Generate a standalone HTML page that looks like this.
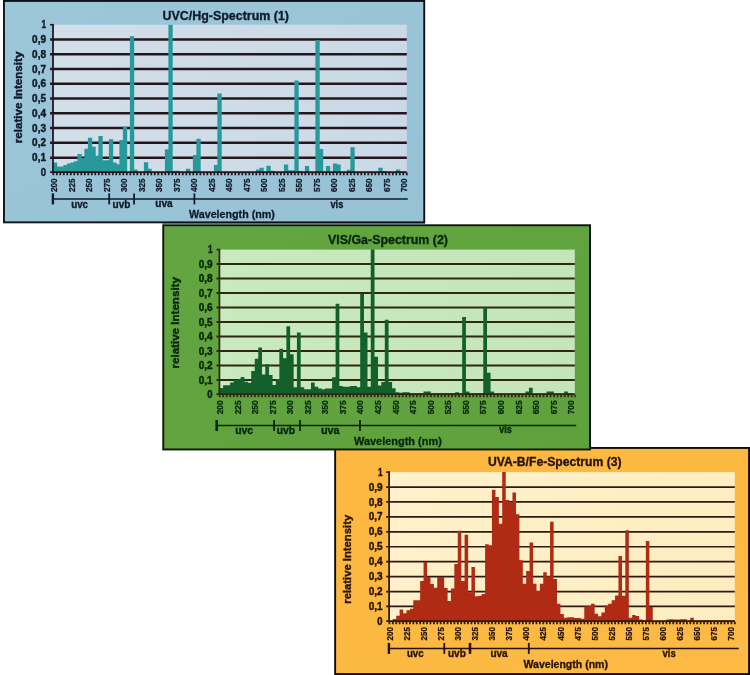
<!DOCTYPE html>
<html lang="en"><head><meta charset="utf-8"><title>Spectra</title>
<style>
html,body{margin:0;padding:0;background:#fff;}
body{width:750px;height:675px;overflow:hidden;}
svg{display:block;font-family:"Liberation Sans",sans-serif;}
text{font-weight:bold;}
</style></head><body>
<svg width="750" height="675" viewBox="0 0 750 675">
<rect width="750" height="675" fill="#fff"/>

<defs><linearGradient id="g1" x1="0" y1="0" x2="1" y2="1"><stop offset="0" stop-color="#9cc6d9"/><stop offset="1" stop-color="#97c2d6"/></linearGradient>
<linearGradient id="p1" x1="0" y1="0" x2="1" y2="0"><stop offset="0" stop-color="#d2dfe9"/><stop offset="1" stop-color="#cbd9e6"/></linearGradient></defs>
<g id="panel1">
<rect x="3.95" y="0.95" width="420.3" height="221.4" fill="url(#g1)" stroke="#0e1116" stroke-width="1.9"/>
<rect x="53.3" y="24.7" width="353.5" height="147.7" fill="url(#p1)"/>
<line x1="50.1" y1="157.63" x2="406.8" y2="157.63" stroke="#24161e" stroke-width="2.5"/>
<line x1="50.1" y1="142.86" x2="406.8" y2="142.86" stroke="#24161e" stroke-width="2.5"/>
<line x1="50.1" y1="128.09" x2="406.8" y2="128.09" stroke="#24161e" stroke-width="2.5"/>
<line x1="50.1" y1="113.32" x2="406.8" y2="113.32" stroke="#24161e" stroke-width="2.5"/>
<line x1="50.1" y1="98.55" x2="406.8" y2="98.55" stroke="#24161e" stroke-width="2.5"/>
<line x1="50.1" y1="83.78" x2="406.8" y2="83.78" stroke="#24161e" stroke-width="2.5"/>
<line x1="50.1" y1="69.01" x2="406.8" y2="69.01" stroke="#24161e" stroke-width="2.5"/>
<line x1="50.1" y1="54.24" x2="406.8" y2="54.24" stroke="#24161e" stroke-width="2.5"/>
<line x1="50.1" y1="39.47" x2="406.8" y2="39.47" stroke="#24161e" stroke-width="2.5"/>
<path d="M53.3 172.4V162.5H57.2V172.4ZM56.4 172.4V166.49H60.7V172.4ZM59.9 172.4V166.49H64.2V172.4ZM63.4 172.4V165.02H67.7V172.4ZM66.9 172.4V163.54H71.2V172.4ZM70.4 172.4V162.5H74.7V172.4ZM73.9 172.4V161.17H78.2V172.4ZM77.4 172.4V153.94H81.7V172.4ZM80.9 172.4V157.93H85.2V172.4ZM84.4 172.4V148.77H88.7V172.4ZM87.9 172.4V137.69H92.2V172.4ZM91.4 172.4V146.85H95.7V172.4ZM94.9 172.4V155.86H99.2V172.4ZM98.4 172.4V136.07H102.7V172.4ZM101.9 172.4V160.29H106.2V172.4ZM105.4 172.4V160.29H109.7V172.4ZM108.9 172.4V139.32H113.2V172.4ZM112.4 172.4V162.5H116.7V172.4ZM115.9 172.4V164.13H120.2V172.4ZM119.4 172.4V139.91H123.7V172.4ZM122.9 172.4V126.61H127.2V172.4ZM129.9 172.4V36.22H134.2V172.4ZM133.4 172.4V169.45H137.7V172.4ZM143.9 172.4V162.36H148.2V172.4ZM147.4 172.4V168.71H151.7V172.4ZM164.9 172.4V149.36H169.2V172.4ZM168.4 172.4V24.7H172.7V172.4ZM171.9 172.4V170.63H176.2V172.4ZM175.4 172.4V170.63H179.7V172.4ZM185.9 172.4V168.71H190.2V172.4ZM192.9 172.4V154.97H197.2V172.4ZM196.4 172.4V138.72H200.7V172.4ZM213.9 172.4V165.02H218.2V172.4ZM217.4 172.4V93.38H221.7V172.4ZM255.9 172.4V169.45H260.2V172.4ZM259.4 172.4V167.82H263.7V172.4ZM266.4 172.4V165.75H270.7V172.4ZM269.9 172.4V170.63H274.2V172.4ZM283.9 172.4V164.42H288.2V172.4ZM287.4 172.4V170.18H291.7V172.4ZM290.9 172.4V170.18H295.2V172.4ZM294.4 172.4V80.53H298.7V172.4ZM297.9 172.4V170.63H302.2V172.4ZM304.9 172.4V166.05H309.2V172.4ZM315.4 172.4V39.91H319.7V172.4ZM318.9 172.4V149.06H323.2V172.4ZM325.9 172.4V166.05H330.2V172.4ZM332.9 172.4V163.54H337.2V172.4ZM336.4 172.4V164.42H340.7V172.4ZM346.9 172.4V169.74H351.2V172.4ZM350.4 172.4V147.29H354.7V172.4ZM378.4 172.4V167.82H382.7V172.4ZM381.9 172.4V170.92H386.2V172.4ZM395.9 172.4V169.45H400.2V172.4ZM399.4 172.4V171.51H403.7V172.4ZM402.9 172.4V171.51H406.8V172.4Z" fill="#27999b"/>
<line x1="53" y1="23.9" x2="53" y2="173.1" stroke="#24161e" stroke-width="1.8"/>
<line x1="50.1" y1="24.7" x2="53.3" y2="24.7" stroke="#24161e" stroke-width="1.6"/>
<line x1="50.1" y1="172.2" x2="406.8" y2="172.2" stroke="#24161e" stroke-width="1.8"/>
<line x1="52.4" y1="174" x2="407.8" y2="174" stroke="#24161e" stroke-width="2.4" stroke-dasharray="1.8 1.7"/>
<text x="40.7" y="176" font-size="10.7" textLength="5.3" lengthAdjust="spacingAndGlyphs" fill="#101b29" stroke="#101b29" stroke-width="0.45">0</text>
<text x="32.1" y="161.23" font-size="10.7" textLength="13.9" lengthAdjust="spacingAndGlyphs" fill="#101b29" stroke="#101b29" stroke-width="0.45">0,1</text>
<text x="32.1" y="146.46" font-size="10.7" textLength="13.9" lengthAdjust="spacingAndGlyphs" fill="#101b29" stroke="#101b29" stroke-width="0.45">0,2</text>
<text x="32.1" y="131.69" font-size="10.7" textLength="13.9" lengthAdjust="spacingAndGlyphs" fill="#101b29" stroke="#101b29" stroke-width="0.45">0,3</text>
<text x="32.1" y="116.92" font-size="10.7" textLength="13.9" lengthAdjust="spacingAndGlyphs" fill="#101b29" stroke="#101b29" stroke-width="0.45">0,4</text>
<text x="32.1" y="102.15" font-size="10.7" textLength="13.9" lengthAdjust="spacingAndGlyphs" fill="#101b29" stroke="#101b29" stroke-width="0.45">0,5</text>
<text x="32.1" y="87.38" font-size="10.7" textLength="13.9" lengthAdjust="spacingAndGlyphs" fill="#101b29" stroke="#101b29" stroke-width="0.45">0,6</text>
<text x="32.1" y="72.61" font-size="10.7" textLength="13.9" lengthAdjust="spacingAndGlyphs" fill="#101b29" stroke="#101b29" stroke-width="0.45">0,7</text>
<text x="32.1" y="57.84" font-size="10.7" textLength="13.9" lengthAdjust="spacingAndGlyphs" fill="#101b29" stroke="#101b29" stroke-width="0.45">0,8</text>
<text x="32.1" y="43.07" font-size="10.7" textLength="13.9" lengthAdjust="spacingAndGlyphs" fill="#101b29" stroke="#101b29" stroke-width="0.45">0,9</text>
<text x="41.4" y="28.3" font-size="10.7" textLength="4.6" lengthAdjust="spacingAndGlyphs" fill="#101b29" stroke="#101b29" stroke-width="0.45">1</text>
<text transform="translate(22.2 143.15) rotate(-90)" font-size="11.6" textLength="91.5" lengthAdjust="spacingAndGlyphs" fill="#101b29" stroke="#101b29" stroke-width="0.4">relative Intensity</text>
<text x="162.4" y="20" font-size="12.8" textLength="126.6" lengthAdjust="spacingAndGlyphs" fill="#101b29" stroke="#101b29" stroke-width="0.35">UVC/Hg-Spectrum (1)</text>
<text transform="translate(57.3 192.1) rotate(-90)" font-size="9.2" textLength="13.7" lengthAdjust="spacingAndGlyphs" fill="#101b29" stroke="#101b29" stroke-width="0.25">200</text>
<text transform="translate(74.8 192.1) rotate(-90)" font-size="9.2" textLength="13.7" lengthAdjust="spacingAndGlyphs" fill="#101b29" stroke="#101b29" stroke-width="0.25">225</text>
<text transform="translate(92.3 192.1) rotate(-90)" font-size="9.2" textLength="13.7" lengthAdjust="spacingAndGlyphs" fill="#101b29" stroke="#101b29" stroke-width="0.25">250</text>
<text transform="translate(109.8 192.1) rotate(-90)" font-size="9.2" textLength="13.7" lengthAdjust="spacingAndGlyphs" fill="#101b29" stroke="#101b29" stroke-width="0.25">275</text>
<text transform="translate(127.3 192.1) rotate(-90)" font-size="9.2" textLength="13.7" lengthAdjust="spacingAndGlyphs" fill="#101b29" stroke="#101b29" stroke-width="0.25">300</text>
<text transform="translate(144.8 192.1) rotate(-90)" font-size="9.2" textLength="13.7" lengthAdjust="spacingAndGlyphs" fill="#101b29" stroke="#101b29" stroke-width="0.25">325</text>
<text transform="translate(162.3 192.1) rotate(-90)" font-size="9.2" textLength="13.7" lengthAdjust="spacingAndGlyphs" fill="#101b29" stroke="#101b29" stroke-width="0.25">350</text>
<text transform="translate(179.8 192.1) rotate(-90)" font-size="9.2" textLength="13.7" lengthAdjust="spacingAndGlyphs" fill="#101b29" stroke="#101b29" stroke-width="0.25">375</text>
<text transform="translate(197.3 192.1) rotate(-90)" font-size="9.2" textLength="13.7" lengthAdjust="spacingAndGlyphs" fill="#101b29" stroke="#101b29" stroke-width="0.25">400</text>
<text transform="translate(214.8 192.1) rotate(-90)" font-size="9.2" textLength="13.7" lengthAdjust="spacingAndGlyphs" fill="#101b29" stroke="#101b29" stroke-width="0.25">425</text>
<text transform="translate(232.3 192.1) rotate(-90)" font-size="9.2" textLength="13.7" lengthAdjust="spacingAndGlyphs" fill="#101b29" stroke="#101b29" stroke-width="0.25">450</text>
<text transform="translate(249.8 192.1) rotate(-90)" font-size="9.2" textLength="13.7" lengthAdjust="spacingAndGlyphs" fill="#101b29" stroke="#101b29" stroke-width="0.25">475</text>
<text transform="translate(267.3 192.1) rotate(-90)" font-size="9.2" textLength="13.7" lengthAdjust="spacingAndGlyphs" fill="#101b29" stroke="#101b29" stroke-width="0.25">500</text>
<text transform="translate(284.8 192.1) rotate(-90)" font-size="9.2" textLength="13.7" lengthAdjust="spacingAndGlyphs" fill="#101b29" stroke="#101b29" stroke-width="0.25">525</text>
<text transform="translate(302.3 192.1) rotate(-90)" font-size="9.2" textLength="13.7" lengthAdjust="spacingAndGlyphs" fill="#101b29" stroke="#101b29" stroke-width="0.25">550</text>
<text transform="translate(319.8 192.1) rotate(-90)" font-size="9.2" textLength="13.7" lengthAdjust="spacingAndGlyphs" fill="#101b29" stroke="#101b29" stroke-width="0.25">575</text>
<text transform="translate(337.3 192.1) rotate(-90)" font-size="9.2" textLength="13.7" lengthAdjust="spacingAndGlyphs" fill="#101b29" stroke="#101b29" stroke-width="0.25">600</text>
<text transform="translate(354.8 192.1) rotate(-90)" font-size="9.2" textLength="13.7" lengthAdjust="spacingAndGlyphs" fill="#101b29" stroke="#101b29" stroke-width="0.25">625</text>
<text transform="translate(372.3 192.1) rotate(-90)" font-size="9.2" textLength="13.7" lengthAdjust="spacingAndGlyphs" fill="#101b29" stroke="#101b29" stroke-width="0.25">650</text>
<text transform="translate(389.8 192.1) rotate(-90)" font-size="9.2" textLength="13.7" lengthAdjust="spacingAndGlyphs" fill="#101b29" stroke="#101b29" stroke-width="0.25">675</text>
<text transform="translate(407.3 192.1) rotate(-90)" font-size="9.2" textLength="13.7" lengthAdjust="spacingAndGlyphs" fill="#101b29" stroke="#101b29" stroke-width="0.25">700</text>
<line x1="52.9" y1="199" x2="407.8" y2="199" stroke="#101b29" stroke-width="1.5"/>
<line x1="52.9" y1="193.4" x2="52.9" y2="204.4" stroke="#101b29" stroke-width="2.4"/>
<line x1="109.2" y1="193.4" x2="109.2" y2="204.4" stroke="#101b29" stroke-width="1.8"/>
<line x1="134.1" y1="193.4" x2="134.1" y2="204.4" stroke="#101b29" stroke-width="1.8"/>
<line x1="194.4" y1="193.4" x2="194.4" y2="204.4" stroke="#101b29" stroke-width="1.8"/>
<text x="71.2" y="207.5" font-size="10.2" textLength="16.8" lengthAdjust="spacingAndGlyphs" fill="#101b29" stroke="#101b29" stroke-width="0.35">uvc</text>
<text x="112.6" y="207.5" font-size="10.2" textLength="17.8" lengthAdjust="spacingAndGlyphs" fill="#101b29" stroke="#101b29" stroke-width="0.35">uvb</text>
<text x="155.3" y="207.1" font-size="10.2" textLength="17.4" lengthAdjust="spacingAndGlyphs" fill="#101b29" stroke="#101b29" stroke-width="0.35">uva</text>
<text x="330.4" y="208.2" font-size="10.2" textLength="12.9" lengthAdjust="spacingAndGlyphs" fill="#101b29" stroke="#101b29" stroke-width="0.35">vis</text>
<text x="189.1" y="218.3" font-size="10.6" textLength="85.7" lengthAdjust="spacingAndGlyphs" fill="#101b29" stroke="#101b29" stroke-width="0.3">Wavelength (nm)</text>
</g>
<defs><linearGradient id="g3" x1="0" y1="0" x2="1" y2="1"><stop offset="0" stop-color="#fcb840"/><stop offset="1" stop-color="#fdba44"/></linearGradient>
<linearGradient id="p3" x1="0" y1="0" x2="1" y2="0"><stop offset="0" stop-color="#fef1cb"/><stop offset="1" stop-color="#fdedc0"/></linearGradient></defs>
<g id="panel3">
<rect x="335.15" y="447.95" width="413.9" height="226.1" fill="url(#g3)" stroke="#120c08" stroke-width="1.9"/>
<rect x="389.4" y="472.1" width="345.4" height="149.3" fill="url(#p3)"/>
<line x1="386.2" y1="606.47" x2="734.8" y2="606.47" stroke="#2e1a10" stroke-width="1.7"/>
<line x1="386.2" y1="591.54" x2="734.8" y2="591.54" stroke="#2e1a10" stroke-width="1.7"/>
<line x1="386.2" y1="576.61" x2="734.8" y2="576.61" stroke="#2e1a10" stroke-width="1.7"/>
<line x1="386.2" y1="561.68" x2="734.8" y2="561.68" stroke="#2e1a10" stroke-width="1.7"/>
<line x1="386.2" y1="546.75" x2="734.8" y2="546.75" stroke="#2e1a10" stroke-width="1.7"/>
<line x1="386.2" y1="531.82" x2="734.8" y2="531.82" stroke="#2e1a10" stroke-width="1.7"/>
<line x1="386.2" y1="516.89" x2="734.8" y2="516.89" stroke="#2e1a10" stroke-width="1.7"/>
<line x1="386.2" y1="501.96" x2="734.8" y2="501.96" stroke="#2e1a10" stroke-width="1.7"/>
<line x1="386.2" y1="487.03" x2="734.8" y2="487.03" stroke="#2e1a10" stroke-width="1.7"/>
<path d="M392.77 621.4V619.01H396.29V621.4ZM396.19 621.4V615.73H399.71V621.4ZM399.61 621.4V609.61H403.13V621.4ZM403.03 621.4V613.34H406.55V621.4ZM406.45 621.4V610.35H409.97V621.4ZM409.87 621.4V608.71H413.39V621.4ZM413.29 621.4V600.35H416.81V621.4ZM416.71 621.4V600.35H420.23V621.4ZM420.13 621.4V581.09H423.65V621.4ZM423.55 621.4V561.98H427.07V621.4ZM426.97 621.4V577.06H430.49V621.4ZM430.39 621.4V584.08H433.91V621.4ZM433.81 621.4V587.66H437.33V621.4ZM437.23 621.4V577.06H440.75V621.4ZM440.65 621.4V577.06H444.17V621.4ZM444.07 621.4V587.96H447.59V621.4ZM447.49 621.4V600.95H451.01V621.4ZM450.91 621.4V588.4H454.43V621.4ZM454.33 621.4V564.07H457.85V621.4ZM457.75 621.4V530.63H461.27V621.4ZM461.17 621.4V581.09H464.69V621.4ZM464.59 621.4V534.66H468.11V621.4ZM468.01 621.4V592.29H471.53V621.4ZM471.43 621.4V567.05H474.95V621.4ZM474.85 621.4V596.32H478.36V621.4ZM478.26 621.4V595.72H481.78V621.4ZM481.68 621.4V594.08H485.2V621.4ZM485.1 621.4V544.36H488.62V621.4ZM488.52 621.4V545.26H492.04V621.4ZM491.94 621.4V489.72H495.46V621.4ZM495.36 621.4V497.03H498.88V621.4ZM498.78 621.4V523.76H502.3V621.4ZM502.2 621.4V472.1H505.72V621.4ZM505.62 621.4V500.02H509.14V621.4ZM509.04 621.4V503.01H512.56V621.4ZM512.46 621.4V492.4H515.98V621.4ZM515.88 621.4V514.35H519.4V621.4ZM519.3 621.4V560.34H522.82V621.4ZM522.72 621.4V583.63H526.24V621.4ZM526.14 621.4V571.01H529.66V621.4ZM529.56 621.4V542.57H533.08V621.4ZM532.98 621.4V583.63H536.5V621.4ZM536.4 621.4V590.94H539.92V621.4ZM539.82 621.4V583.63H543.34V621.4ZM543.24 621.4V572.28H546.76V621.4ZM546.66 621.4V576.61H550.18V621.4ZM550.08 621.4V521.67H553.6V621.4ZM553.5 621.4V579H557.02V621.4ZM556.92 621.4V603.63H560.44V621.4ZM560.34 621.4V614.08H563.86V621.4ZM563.76 621.4V617.67H567.28V621.4ZM567.18 621.4V617.37H570.7V621.4ZM570.6 621.4V617.37H574.12V621.4ZM574.02 621.4V618.12H577.54V621.4ZM577.44 621.4V618.12H580.96V621.4ZM580.86 621.4V618.71H584.38V621.4ZM584.28 621.4V606.47H587.8V621.4ZM587.7 621.4V605.72H591.22V621.4ZM591.12 621.4V603.63H594.64V621.4ZM594.54 621.4V613.64H598.06V621.4ZM597.96 621.4V616.32H601.48V621.4ZM601.38 621.4V612.44H604.9V621.4ZM604.8 621.4V605.72H608.32V621.4ZM608.22 621.4V603.63H611.74V621.4ZM611.64 621.4V600.35H615.16V621.4ZM615.06 621.4V595.42H618.58V621.4ZM618.48 621.4V556.01H622V621.4ZM621.9 621.4V595.72H625.42V621.4ZM625.32 621.4V530.33H628.84V621.4ZM628.74 621.4V617.67H632.26V621.4ZM632.16 621.4V614.98H635.68V621.4ZM635.58 621.4V615.88H639.1V621.4ZM639 621.4V619.46H642.52V621.4ZM642.42 621.4V620.35H645.94V621.4ZM645.84 621.4V541.08H649.35V621.4ZM649.25 621.4V607.07H652.77V621.4ZM652.67 621.4V620.65H656.19V621.4ZM656.09 621.4V620.65H659.61V621.4ZM659.51 621.4V620.65H663.03V621.4ZM662.93 621.4V620.65H666.45V621.4ZM666.35 621.4V619.61H669.87V621.4ZM669.77 621.4V619.16H673.29V621.4ZM673.19 621.4V619.61H676.71V621.4ZM676.61 621.4V619.61H680.13V621.4ZM680.03 621.4V619.16H683.55V621.4ZM683.45 621.4V619.16H686.97V621.4ZM686.87 621.4V620.5H690.39V621.4ZM690.29 621.4V617.67H693.81V621.4ZM693.71 621.4V620.5H697.23V621.4ZM697.13 621.4V620.5H700.65V621.4ZM700.55 621.4V620.21H704.07V621.4ZM703.97 621.4V620.21H707.49V621.4ZM707.39 621.4V620.21H710.91V621.4ZM710.81 621.4V620.5H714.33V621.4ZM714.23 621.4V620.5H717.75V621.4ZM717.65 621.4V620.5H721.17V621.4ZM721.07 621.4V620.21H724.59V621.4ZM724.49 621.4V620.21H728.01V621.4ZM727.91 621.4V620.21H731.43V621.4ZM731.33 621.4V620.5H734.8V621.4Z" fill="#b02a14"/>
<line x1="389.1" y1="471.3" x2="389.1" y2="622.1" stroke="#2e1a10" stroke-width="1.8"/>
<line x1="386.2" y1="472.1" x2="389.4" y2="472.1" stroke="#2e1a10" stroke-width="1.6"/>
<line x1="386.2" y1="621.2" x2="734.8" y2="621.2" stroke="#2e1a10" stroke-width="1.8"/>
<line x1="388.5" y1="623" x2="735.8" y2="623" stroke="#2e1a10" stroke-width="2.4" stroke-dasharray="1.8 1.62"/>
<text x="377.3" y="625" font-size="10.7" textLength="5.3" lengthAdjust="spacingAndGlyphs" fill="#27130a" stroke="#27130a" stroke-width="0.45">0</text>
<text x="368.7" y="610.07" font-size="10.7" textLength="13.9" lengthAdjust="spacingAndGlyphs" fill="#27130a" stroke="#27130a" stroke-width="0.45">0,1</text>
<text x="368.7" y="595.14" font-size="10.7" textLength="13.9" lengthAdjust="spacingAndGlyphs" fill="#27130a" stroke="#27130a" stroke-width="0.45">0,2</text>
<text x="368.7" y="580.21" font-size="10.7" textLength="13.9" lengthAdjust="spacingAndGlyphs" fill="#27130a" stroke="#27130a" stroke-width="0.45">0,3</text>
<text x="368.7" y="565.28" font-size="10.7" textLength="13.9" lengthAdjust="spacingAndGlyphs" fill="#27130a" stroke="#27130a" stroke-width="0.45">0,4</text>
<text x="368.7" y="550.35" font-size="10.7" textLength="13.9" lengthAdjust="spacingAndGlyphs" fill="#27130a" stroke="#27130a" stroke-width="0.45">0,5</text>
<text x="368.7" y="535.42" font-size="10.7" textLength="13.9" lengthAdjust="spacingAndGlyphs" fill="#27130a" stroke="#27130a" stroke-width="0.45">0,6</text>
<text x="368.7" y="520.49" font-size="10.7" textLength="13.9" lengthAdjust="spacingAndGlyphs" fill="#27130a" stroke="#27130a" stroke-width="0.45">0,7</text>
<text x="368.7" y="505.56" font-size="10.7" textLength="13.9" lengthAdjust="spacingAndGlyphs" fill="#27130a" stroke="#27130a" stroke-width="0.45">0,8</text>
<text x="368.7" y="490.63" font-size="10.7" textLength="13.9" lengthAdjust="spacingAndGlyphs" fill="#27130a" stroke="#27130a" stroke-width="0.45">0,9</text>
<text x="378" y="475.7" font-size="10.7" textLength="4.6" lengthAdjust="spacingAndGlyphs" fill="#27130a" stroke="#27130a" stroke-width="0.45">1</text>
<text transform="translate(351.1 603.75) rotate(-90)" font-size="11.6" textLength="88.9" lengthAdjust="spacingAndGlyphs" fill="#27130a" stroke="#27130a" stroke-width="0.4">relative Intensity</text>
<text x="488" y="466.4" font-size="12.8" textLength="133.6" lengthAdjust="spacingAndGlyphs" fill="#27130a" stroke="#27130a" stroke-width="0.35">UVA-B/Fe-Spectrum (3)</text>
<text transform="translate(392.9 640.4) rotate(-90)" font-size="9.2" textLength="13.3" lengthAdjust="spacingAndGlyphs" fill="#27130a" stroke="#27130a" stroke-width="0.25">200</text>
<text transform="translate(409.96 640.4) rotate(-90)" font-size="9.2" textLength="13.3" lengthAdjust="spacingAndGlyphs" fill="#27130a" stroke="#27130a" stroke-width="0.25">225</text>
<text transform="translate(427.02 640.4) rotate(-90)" font-size="9.2" textLength="13.3" lengthAdjust="spacingAndGlyphs" fill="#27130a" stroke="#27130a" stroke-width="0.25">250</text>
<text transform="translate(444.08 640.4) rotate(-90)" font-size="9.2" textLength="13.3" lengthAdjust="spacingAndGlyphs" fill="#27130a" stroke="#27130a" stroke-width="0.25">275</text>
<text transform="translate(461.14 640.4) rotate(-90)" font-size="9.2" textLength="13.3" lengthAdjust="spacingAndGlyphs" fill="#27130a" stroke="#27130a" stroke-width="0.25">300</text>
<text transform="translate(478.2 640.4) rotate(-90)" font-size="9.2" textLength="13.3" lengthAdjust="spacingAndGlyphs" fill="#27130a" stroke="#27130a" stroke-width="0.25">325</text>
<text transform="translate(495.26 640.4) rotate(-90)" font-size="9.2" textLength="13.3" lengthAdjust="spacingAndGlyphs" fill="#27130a" stroke="#27130a" stroke-width="0.25">350</text>
<text transform="translate(512.32 640.4) rotate(-90)" font-size="9.2" textLength="13.3" lengthAdjust="spacingAndGlyphs" fill="#27130a" stroke="#27130a" stroke-width="0.25">375</text>
<text transform="translate(529.38 640.4) rotate(-90)" font-size="9.2" textLength="13.3" lengthAdjust="spacingAndGlyphs" fill="#27130a" stroke="#27130a" stroke-width="0.25">400</text>
<text transform="translate(546.44 640.4) rotate(-90)" font-size="9.2" textLength="13.3" lengthAdjust="spacingAndGlyphs" fill="#27130a" stroke="#27130a" stroke-width="0.25">425</text>
<text transform="translate(563.5 640.4) rotate(-90)" font-size="9.2" textLength="13.3" lengthAdjust="spacingAndGlyphs" fill="#27130a" stroke="#27130a" stroke-width="0.25">450</text>
<text transform="translate(580.56 640.4) rotate(-90)" font-size="9.2" textLength="13.3" lengthAdjust="spacingAndGlyphs" fill="#27130a" stroke="#27130a" stroke-width="0.25">475</text>
<text transform="translate(597.62 640.4) rotate(-90)" font-size="9.2" textLength="13.3" lengthAdjust="spacingAndGlyphs" fill="#27130a" stroke="#27130a" stroke-width="0.25">500</text>
<text transform="translate(614.68 640.4) rotate(-90)" font-size="9.2" textLength="13.3" lengthAdjust="spacingAndGlyphs" fill="#27130a" stroke="#27130a" stroke-width="0.25">525</text>
<text transform="translate(631.74 640.4) rotate(-90)" font-size="9.2" textLength="13.3" lengthAdjust="spacingAndGlyphs" fill="#27130a" stroke="#27130a" stroke-width="0.25">550</text>
<text transform="translate(648.8 640.4) rotate(-90)" font-size="9.2" textLength="13.3" lengthAdjust="spacingAndGlyphs" fill="#27130a" stroke="#27130a" stroke-width="0.25">575</text>
<text transform="translate(665.86 640.4) rotate(-90)" font-size="9.2" textLength="13.3" lengthAdjust="spacingAndGlyphs" fill="#27130a" stroke="#27130a" stroke-width="0.25">600</text>
<text transform="translate(682.92 640.4) rotate(-90)" font-size="9.2" textLength="13.3" lengthAdjust="spacingAndGlyphs" fill="#27130a" stroke="#27130a" stroke-width="0.25">625</text>
<text transform="translate(699.98 640.4) rotate(-90)" font-size="9.2" textLength="13.3" lengthAdjust="spacingAndGlyphs" fill="#27130a" stroke="#27130a" stroke-width="0.25">650</text>
<text transform="translate(717.04 640.4) rotate(-90)" font-size="9.2" textLength="13.3" lengthAdjust="spacingAndGlyphs" fill="#27130a" stroke="#27130a" stroke-width="0.25">675</text>
<text transform="translate(734.1 640.4) rotate(-90)" font-size="9.2" textLength="13.3" lengthAdjust="spacingAndGlyphs" fill="#27130a" stroke="#27130a" stroke-width="0.25">700</text>
<line x1="388.9" y1="648.5" x2="738.8" y2="648.5" stroke="#27130a" stroke-width="1.5"/>
<line x1="388.9" y1="642.9" x2="388.9" y2="653.9" stroke="#27130a" stroke-width="2.4"/>
<line x1="444.3" y1="642.9" x2="444.3" y2="653.9" stroke="#27130a" stroke-width="1.8"/>
<line x1="470" y1="642.9" x2="470" y2="653.9" stroke="#27130a" stroke-width="2.6"/>
<line x1="528.8" y1="642.9" x2="528.8" y2="653.9" stroke="#27130a" stroke-width="1.8"/>
<text x="406.9" y="657.4" font-size="10.2" textLength="16.8" lengthAdjust="spacingAndGlyphs" fill="#27130a" stroke="#27130a" stroke-width="0.35">uvc</text>
<text x="447.9" y="657.4" font-size="10.2" textLength="18" lengthAdjust="spacingAndGlyphs" fill="#27130a" stroke="#27130a" stroke-width="0.35">uvb</text>
<text x="490.4" y="657" font-size="10.2" textLength="17.3" lengthAdjust="spacingAndGlyphs" fill="#27130a" stroke="#27130a" stroke-width="0.35">uva</text>
<text x="662.6" y="657.2" font-size="10.2" textLength="13.2" lengthAdjust="spacingAndGlyphs" fill="#27130a" stroke="#27130a" stroke-width="0.35">vis</text>
<text x="523.5" y="668.4" font-size="10.6" textLength="84.5" lengthAdjust="spacingAndGlyphs" fill="#27130a" stroke="#27130a" stroke-width="0.3">Wavelength (nm)</text>
</g>
<defs><linearGradient id="g2" x1="0" y1="0" x2="1" y2="1"><stop offset="0" stop-color="#63a540"/><stop offset="1" stop-color="#5fa13d"/></linearGradient>
<linearGradient id="p2" x1="0" y1="0" x2="1" y2="0"><stop offset="0" stop-color="#c9e9bf"/><stop offset="1" stop-color="#c4e4ba"/></linearGradient></defs>
<g id="panel2">
<rect x="163.25" y="225.25" width="426.8" height="224.2" fill="url(#g2)" stroke="#0c140c" stroke-width="1.9"/>
<rect x="219.7" y="249.6" width="355.1" height="144.8" fill="url(#p2)"/>
<line x1="216.5" y1="379.92" x2="574.8" y2="379.92" stroke="#2f2813" stroke-width="2.0"/>
<line x1="216.5" y1="365.44" x2="574.8" y2="365.44" stroke="#2f2813" stroke-width="2.0"/>
<line x1="216.5" y1="350.96" x2="574.8" y2="350.96" stroke="#2f2813" stroke-width="2.0"/>
<line x1="216.5" y1="336.48" x2="574.8" y2="336.48" stroke="#2f2813" stroke-width="2.0"/>
<line x1="216.5" y1="322" x2="574.8" y2="322" stroke="#2f2813" stroke-width="2.0"/>
<line x1="216.5" y1="307.52" x2="574.8" y2="307.52" stroke="#2f2813" stroke-width="2.0"/>
<line x1="216.5" y1="293.04" x2="574.8" y2="293.04" stroke="#2f2813" stroke-width="2.0"/>
<line x1="216.5" y1="278.56" x2="574.8" y2="278.56" stroke="#2f2813" stroke-width="2.0"/>
<line x1="216.5" y1="264.08" x2="574.8" y2="264.08" stroke="#2f2813" stroke-width="2.0"/>
<path d="M219.7 394.4V388.03H223.34V394.4ZM223.1 394.4V385.13H226.85V394.4ZM226.61 394.4V385.13H230.37V394.4ZM230.13 394.4V382.38H233.88V394.4ZM233.64 394.4V379.92H237.4V394.4ZM237.16 394.4V379.34H240.92V394.4ZM240.68 394.4V377.02H244.43V394.4ZM244.19 394.4V381.66H247.95V394.4ZM247.71 394.4V382.82H251.46V394.4ZM251.22 394.4V370.94H254.98V394.4ZM254.74 394.4V358.78H258.49V394.4ZM258.25 394.4V347.48H262.01V394.4ZM261.77 394.4V374.42H265.53V394.4ZM265.29 394.4V364.14H269.04V394.4ZM268.8 394.4V375H272.56V394.4ZM272.32 394.4V384.99H276.07V394.4ZM275.83 394.4V378.91H279.59V394.4ZM279.35 394.4V348.79H283.11V394.4ZM282.87 394.4V358.2H286.62V394.4ZM286.38 394.4V326.2H290.14V394.4ZM289.9 394.4V354.15H293.65V394.4ZM293.41 394.4V387.3H297.17V394.4ZM296.93 394.4V332.43H300.68V394.4ZM300.44 394.4V387.3H304.2V394.4ZM303.96 394.4V389.33H307.72V394.4ZM307.48 394.4V389.33H311.23V394.4ZM310.99 394.4V382.38H314.75V394.4ZM314.51 394.4V386.73H318.26V394.4ZM318.02 394.4V388.61H321.78V394.4ZM321.54 394.4V389.33H325.3V394.4ZM325.06 394.4V388.61H328.81V394.4ZM328.57 394.4V388.61H332.33V394.4ZM332.09 394.4V377.31H335.84V394.4ZM335.6 394.4V303.76H339.36V394.4ZM339.12 394.4V386H342.87V394.4ZM342.63 394.4V386.73H346.39V394.4ZM346.15 394.4V386.73H349.91V394.4ZM349.67 394.4V386H353.42V394.4ZM353.18 394.4V386H356.94V394.4ZM356.7 394.4V387.3H360.45V394.4ZM360.21 394.4V293.76H363.97V394.4ZM363.73 394.4V332.43H367.49V394.4ZM367.25 394.4V386.73H371V394.4ZM370.76 394.4V249.6H374.52V394.4ZM374.28 394.4V356.75H378.03V394.4ZM377.79 394.4V385.42H381.55V394.4ZM381.31 394.4V382.09H385.06V394.4ZM384.82 394.4V319.68H388.58V394.4ZM388.34 394.4V382.09H392.1V394.4ZM391.86 394.4V388.32H395.61V394.4ZM395.37 394.4V392.23H399.13V394.4ZM398.89 394.4V392.66H402.64V394.4ZM402.4 394.4V392.23H406.16V394.4ZM405.92 394.4V392.23H409.68V394.4ZM409.44 394.4V393.24H413.19V394.4ZM412.95 394.4V393.24H416.71V394.4ZM416.47 394.4V393.24H420.22V394.4ZM419.98 394.4V393.24H423.74V394.4ZM423.5 394.4V391.5H427.25V394.4ZM427.01 394.4V391.5H430.77V394.4ZM430.53 394.4V393.24H434.29V394.4ZM434.05 394.4V393.24H437.8V394.4ZM437.56 394.4V393.24H441.32V394.4ZM441.08 394.4V393.24H444.83V394.4ZM444.59 394.4V393.24H448.35V394.4ZM448.11 394.4V393.24H451.87V394.4ZM451.63 394.4V393.24H455.38V394.4ZM455.14 394.4V392.23H458.9V394.4ZM458.66 394.4V393.24H462.41V394.4ZM462.17 394.4V316.93H465.93V394.4ZM465.69 394.4V391.5H469.44V394.4ZM469.2 394.4V393.24H472.96V394.4ZM472.72 394.4V393.24H476.48V394.4ZM476.24 394.4V393.24H479.99V394.4ZM479.75 394.4V393.24H483.51V394.4ZM483.27 394.4V307.52H487.02V394.4ZM486.78 394.4V372.68H490.54V394.4ZM490.3 394.4V391.5H494.06V394.4ZM493.82 394.4V393.53H497.57V394.4ZM497.33 394.4V393.53H501.09V394.4ZM500.85 394.4V393.53H504.6V394.4ZM504.36 394.4V393.53H508.12V394.4ZM507.88 394.4V393.53H511.63V394.4ZM511.39 394.4V393.53H515.15V394.4ZM514.91 394.4V393.53H518.67V394.4ZM518.43 394.4V393.53H522.18V394.4ZM521.94 394.4V393.53H525.7V394.4ZM525.46 394.4V391.5H529.21V394.4ZM528.97 394.4V387.74H532.73V394.4ZM532.49 394.4V393.53H536.25V394.4ZM536.01 394.4V393.53H539.76V394.4ZM539.52 394.4V393.53H543.28V394.4ZM543.04 394.4V393.53H546.79V394.4ZM546.55 394.4V391.5H550.31V394.4ZM550.07 394.4V391.5H553.82V394.4ZM553.58 394.4V393.53H557.34V394.4ZM557.1 394.4V393.53H560.86V394.4ZM560.62 394.4V393.53H564.37V394.4ZM564.13 394.4V391.5H567.89V394.4ZM567.65 394.4V392.95H571.4V394.4ZM571.16 394.4V393.53H574.8V394.4Z" fill="#14602c"/>
<line x1="219.4" y1="248.8" x2="219.4" y2="395.1" stroke="#2f2813" stroke-width="1.8"/>
<line x1="216.5" y1="249.6" x2="219.7" y2="249.6" stroke="#2f2813" stroke-width="1.6"/>
<line x1="216.5" y1="394.2" x2="574.8" y2="394.2" stroke="#2f2813" stroke-width="1.8"/>
<line x1="218.8" y1="396" x2="575.8" y2="396" stroke="#2f2813" stroke-width="2.4" stroke-dasharray="1.8 1.72"/>
<text x="207.3" y="398" font-size="10.7" textLength="5.3" lengthAdjust="spacingAndGlyphs" fill="#08260f" stroke="#08260f" stroke-width="0.45">0</text>
<text x="198.7" y="383.52" font-size="10.7" textLength="13.9" lengthAdjust="spacingAndGlyphs" fill="#08260f" stroke="#08260f" stroke-width="0.45">0,1</text>
<text x="198.7" y="369.04" font-size="10.7" textLength="13.9" lengthAdjust="spacingAndGlyphs" fill="#08260f" stroke="#08260f" stroke-width="0.45">0,2</text>
<text x="198.7" y="354.56" font-size="10.7" textLength="13.9" lengthAdjust="spacingAndGlyphs" fill="#08260f" stroke="#08260f" stroke-width="0.45">0,3</text>
<text x="198.7" y="340.08" font-size="10.7" textLength="13.9" lengthAdjust="spacingAndGlyphs" fill="#08260f" stroke="#08260f" stroke-width="0.45">0,4</text>
<text x="198.7" y="325.6" font-size="10.7" textLength="13.9" lengthAdjust="spacingAndGlyphs" fill="#08260f" stroke="#08260f" stroke-width="0.45">0,5</text>
<text x="198.7" y="311.12" font-size="10.7" textLength="13.9" lengthAdjust="spacingAndGlyphs" fill="#08260f" stroke="#08260f" stroke-width="0.45">0,6</text>
<text x="198.7" y="296.64" font-size="10.7" textLength="13.9" lengthAdjust="spacingAndGlyphs" fill="#08260f" stroke="#08260f" stroke-width="0.45">0,7</text>
<text x="198.7" y="282.16" font-size="10.7" textLength="13.9" lengthAdjust="spacingAndGlyphs" fill="#08260f" stroke="#08260f" stroke-width="0.45">0,8</text>
<text x="198.7" y="267.68" font-size="10.7" textLength="13.9" lengthAdjust="spacingAndGlyphs" fill="#08260f" stroke="#08260f" stroke-width="0.45">0,9</text>
<text x="208" y="253.2" font-size="10.7" textLength="4.6" lengthAdjust="spacingAndGlyphs" fill="#08260f" stroke="#08260f" stroke-width="0.45">1</text>
<text transform="translate(179.2 368.5) rotate(-90)" font-size="11.6" textLength="91.4" lengthAdjust="spacingAndGlyphs" fill="#08260f" stroke="#08260f" stroke-width="0.4">relative Intensity</text>
<text x="328" y="244" font-size="12.8" textLength="120" lengthAdjust="spacingAndGlyphs" fill="#08260f" stroke="#08260f" stroke-width="0.35">VIS/Ga-Spectrum (2)</text>
<text transform="translate(223 414.3) rotate(-90)" font-size="9.2" textLength="13.9" lengthAdjust="spacingAndGlyphs" fill="#08260f" stroke="#08260f" stroke-width="0.25">200</text>
<text transform="translate(240.56 414.3) rotate(-90)" font-size="9.2" textLength="13.9" lengthAdjust="spacingAndGlyphs" fill="#08260f" stroke="#08260f" stroke-width="0.25">225</text>
<text transform="translate(258.12 414.3) rotate(-90)" font-size="9.2" textLength="13.9" lengthAdjust="spacingAndGlyphs" fill="#08260f" stroke="#08260f" stroke-width="0.25">250</text>
<text transform="translate(275.68 414.3) rotate(-90)" font-size="9.2" textLength="13.9" lengthAdjust="spacingAndGlyphs" fill="#08260f" stroke="#08260f" stroke-width="0.25">275</text>
<text transform="translate(293.24 414.3) rotate(-90)" font-size="9.2" textLength="13.9" lengthAdjust="spacingAndGlyphs" fill="#08260f" stroke="#08260f" stroke-width="0.25">300</text>
<text transform="translate(310.8 414.3) rotate(-90)" font-size="9.2" textLength="13.9" lengthAdjust="spacingAndGlyphs" fill="#08260f" stroke="#08260f" stroke-width="0.25">325</text>
<text transform="translate(328.36 414.3) rotate(-90)" font-size="9.2" textLength="13.9" lengthAdjust="spacingAndGlyphs" fill="#08260f" stroke="#08260f" stroke-width="0.25">350</text>
<text transform="translate(345.92 414.3) rotate(-90)" font-size="9.2" textLength="13.9" lengthAdjust="spacingAndGlyphs" fill="#08260f" stroke="#08260f" stroke-width="0.25">375</text>
<text transform="translate(363.48 414.3) rotate(-90)" font-size="9.2" textLength="13.9" lengthAdjust="spacingAndGlyphs" fill="#08260f" stroke="#08260f" stroke-width="0.25">400</text>
<text transform="translate(381.04 414.3) rotate(-90)" font-size="9.2" textLength="13.9" lengthAdjust="spacingAndGlyphs" fill="#08260f" stroke="#08260f" stroke-width="0.25">425</text>
<text transform="translate(398.6 414.3) rotate(-90)" font-size="9.2" textLength="13.9" lengthAdjust="spacingAndGlyphs" fill="#08260f" stroke="#08260f" stroke-width="0.25">450</text>
<text transform="translate(416.16 414.3) rotate(-90)" font-size="9.2" textLength="13.9" lengthAdjust="spacingAndGlyphs" fill="#08260f" stroke="#08260f" stroke-width="0.25">475</text>
<text transform="translate(433.72 414.3) rotate(-90)" font-size="9.2" textLength="13.9" lengthAdjust="spacingAndGlyphs" fill="#08260f" stroke="#08260f" stroke-width="0.25">500</text>
<text transform="translate(451.28 414.3) rotate(-90)" font-size="9.2" textLength="13.9" lengthAdjust="spacingAndGlyphs" fill="#08260f" stroke="#08260f" stroke-width="0.25">525</text>
<text transform="translate(468.84 414.3) rotate(-90)" font-size="9.2" textLength="13.9" lengthAdjust="spacingAndGlyphs" fill="#08260f" stroke="#08260f" stroke-width="0.25">550</text>
<text transform="translate(486.4 414.3) rotate(-90)" font-size="9.2" textLength="13.9" lengthAdjust="spacingAndGlyphs" fill="#08260f" stroke="#08260f" stroke-width="0.25">575</text>
<text transform="translate(503.96 414.3) rotate(-90)" font-size="9.2" textLength="13.9" lengthAdjust="spacingAndGlyphs" fill="#08260f" stroke="#08260f" stroke-width="0.25">600</text>
<text transform="translate(521.52 414.3) rotate(-90)" font-size="9.2" textLength="13.9" lengthAdjust="spacingAndGlyphs" fill="#08260f" stroke="#08260f" stroke-width="0.25">625</text>
<text transform="translate(539.08 414.3) rotate(-90)" font-size="9.2" textLength="13.9" lengthAdjust="spacingAndGlyphs" fill="#08260f" stroke="#08260f" stroke-width="0.25">650</text>
<text transform="translate(556.64 414.3) rotate(-90)" font-size="9.2" textLength="13.9" lengthAdjust="spacingAndGlyphs" fill="#08260f" stroke="#08260f" stroke-width="0.25">675</text>
<text transform="translate(574.2 414.3) rotate(-90)" font-size="9.2" textLength="13.9" lengthAdjust="spacingAndGlyphs" fill="#08260f" stroke="#08260f" stroke-width="0.25">700</text>
<line x1="216.7" y1="425.6" x2="576.2" y2="425.6" stroke="#08260f" stroke-width="1.5"/>
<line x1="216.7" y1="420" x2="216.7" y2="431" stroke="#08260f" stroke-width="2.6"/>
<line x1="274.1" y1="420" x2="274.1" y2="431" stroke="#08260f" stroke-width="1.8"/>
<line x1="300" y1="420" x2="300" y2="431" stroke="#08260f" stroke-width="1.8"/>
<line x1="360" y1="420" x2="360" y2="431" stroke="#08260f" stroke-width="1.8"/>
<text x="235.2" y="434" font-size="10.2" textLength="18" lengthAdjust="spacingAndGlyphs" fill="#08260f" stroke="#08260f" stroke-width="0.35">uvc</text>
<text x="276.7" y="434" font-size="10.2" textLength="18.5" lengthAdjust="spacingAndGlyphs" fill="#08260f" stroke="#08260f" stroke-width="0.35">uvb</text>
<text x="320.9" y="433.5" font-size="10.2" textLength="18.7" lengthAdjust="spacingAndGlyphs" fill="#08260f" stroke="#08260f" stroke-width="0.35">uva</text>
<text x="499.2" y="433.4" font-size="10.2" textLength="12.6" lengthAdjust="spacingAndGlyphs" fill="#08260f" stroke="#08260f" stroke-width="0.35">vis</text>
<text x="354" y="444.8" font-size="10.6" textLength="87.8" lengthAdjust="spacingAndGlyphs" fill="#08260f" stroke="#08260f" stroke-width="0.3">Wavelength (nm)</text>
</g>
<rect x="162.3" y="223.2" width="262.9" height="1.2" fill="#4d5c66"/>
</svg></body></html>
